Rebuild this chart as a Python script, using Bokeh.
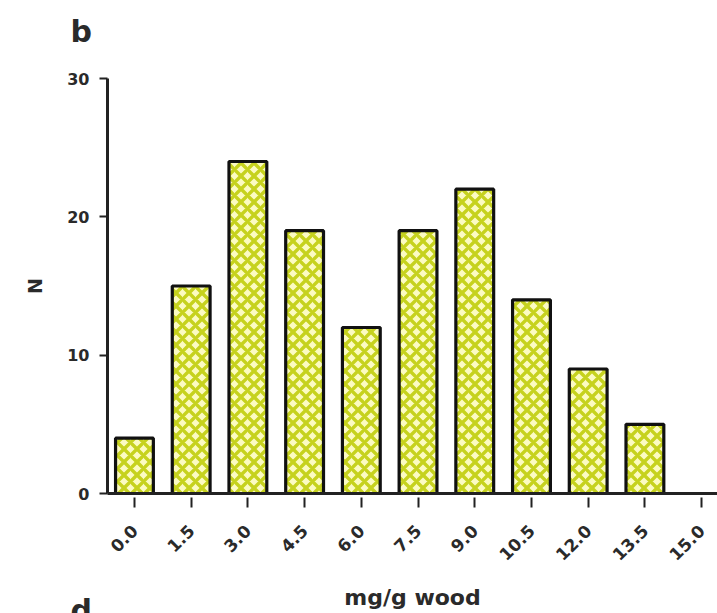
from bokeh.plotting import figure
from bokeh.models import ColumnDataSource, FixedTicker, Range1d, Label
from bokeh.embed import file_html
from bokeh.resources import INLINE
import math

# Data
bin_centers = [0.0, 1.5, 3.0, 4.5, 6.0, 7.5, 9.0, 10.5, 12.0, 13.5]
counts = [4, 15, 24, 19, 12, 19, 22, 14, 9, 5]
x_ticks = [0.0, 1.5, 3.0, 4.5, 6.0, 7.5, 9.0, 10.5, 12.0, 13.5, 15.0]
y_ticks = [0, 10, 20, 30]
x_label = "mg/g wood"
y_label = "N"
panel_label = "b"
next_panel_label = "d"

FONT = "DejaVu Sans"
TXT = "#2a2a2a"

src = ColumnDataSource(dict(x=bin_centers, top=counts))

p = figure(width=717, height=613, output_backend="svg", toolbar_location=None,
           x_range=Range1d(-0.713, 15.42), y_range=Range1d(0, 30),
           min_border_left=106, min_border_right=0, min_border_top=78, min_border_bottom=120)
p.outline_line_color = None
p.grid.visible = False
p.background_fill_color = "white"
p.border_fill_color = "white"

p.vbar(x="x", top="top", width=1.0, bottom=0, source=src,
       fill_color="#fcfbc2", line_color="#111111", line_width=3.2,
       hatch_pattern="diagonal_cross", hatch_color="#c6d21e",
       hatch_scale=13, hatch_weight=3.4)

for ax in (p.xaxis[0], p.yaxis[0]):
    ax.axis_line_width = 3
    ax.axis_line_color = "#222222"
    ax.major_tick_line_width = 2
    ax.major_tick_line_color = "#222222"
    ax.minor_tick_line_color = None
    ax.major_label_text_font = FONT
    ax.major_label_text_font_style = "bold"
    ax.major_label_text_font_size = "16px"
    ax.major_label_text_color = TXT
    ax.axis_label_text_font = FONT
    ax.axis_label_text_font_style = "bold"
    ax.axis_label_text_color = TXT

p.xaxis.ticker = FixedTicker(ticks=x_ticks)
p.xaxis.major_label_overrides = {t: f"{t:.1f}" for t in x_ticks}
p.xaxis.major_label_orientation = math.pi / 4
p.xaxis.major_label_text_font_size = "17px"
p.xaxis.major_tick_in = -4
p.xaxis.major_tick_out = 14
p.xaxis.major_label_standoff = 20
p.xaxis.axis_label = x_label
p.xaxis.axis_label_text_font_size = "22px"
p.xaxis.axis_label_standoff = 16

p.yaxis.ticker = FixedTicker(ticks=y_ticks)
p.yaxis.major_tick_in = 0
p.yaxis.major_tick_out = 8
p.yaxis.major_label_standoff = 10
p.yaxis.axis_label = y_label
p.yaxis.axis_label_text_font_size = "19px"
p.yaxis.axis_label_standoff = 18

p.add_layout(Label(x=70, y=31, x_units="canvas", y_units="canvas", text=panel_label,
                   text_font=FONT, text_font_style="bold", text_font_size="30px",
                   text_color=TXT, text_baseline="alphabetic", text_align="left"), "above")
p.add_layout(Label(x=70, y=592, x_units="canvas", y_units="canvas", text=next_panel_label,
                   text_font=FONT, text_font_style="bold", text_font_size="30px",
                   text_color=TXT, text_baseline="top", text_align="left"), "left")

open("out.html", "w").write(file_html(p, INLINE))
